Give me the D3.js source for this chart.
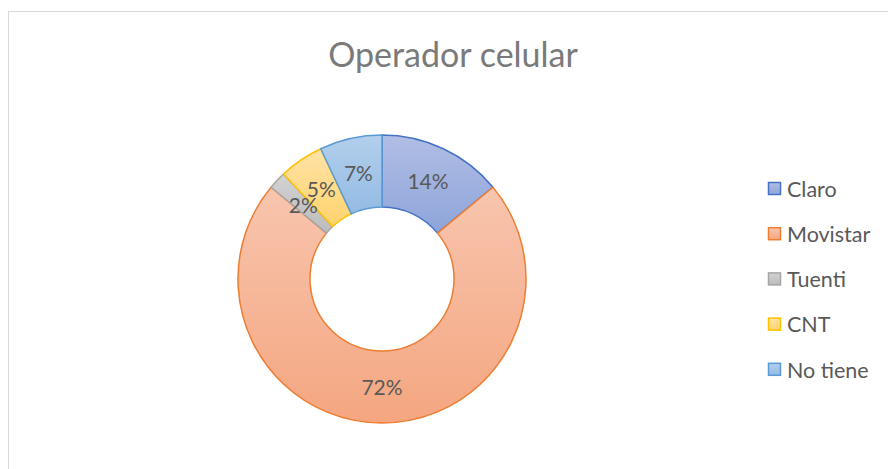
<!DOCTYPE html>
<html><head><meta charset="utf-8">
<script src="https://cdn.jsdelivr.net/npm/d3@7"></script>
<style>body{margin:0;background:#fff}svg{display:block}</style>
</head><body>
<script>
const categories = ["Claro", "Movistar", "Tuenti", "CNT", "No tiene"];
const values = [14, 72, 2, 5, 7];
const labels = ["14%", "72%", "2%", "5%", "7%"];
const strokeColors = ["#4472c4", "#ed7d31", "#a5a5a5", "#ffc000", "#5b9bd5"];
const topColors = ["#b1bee4", "#f8c5ae", "#d2d2d2", "#ffe3a6", "#b3cfec"];
const bottomColors = ["#8ea4da", "#f4a680", "#bcbcbc", "#ffd36e", "#93bbe4"];
const title = "Operador celular";

const W = 888, H = 469;
const svg = d3.select("body").append("svg").attr("width", W).attr("height", H);
const font = "Lato, 'Open Sans', sans-serif";

svg.append("rect").attr("x", 8.5).attr("y", 11.5).attr("width", 900).attr("height", 500)
  .attr("fill", "#fff").attr("stroke", "#d9d9d9").attr("stroke-width", 1);

const defs = svg.append("defs");
categories.forEach((c, i) => {
  const g = defs.append("linearGradient").attr("id", "g" + i)
    .attr("x1", 0).attr("y1", 0).attr("x2", 0).attr("y2", 1);
  g.append("stop").attr("offset", 0).attr("stop-color", topColors[i]);
  g.append("stop").attr("offset", 1).attr("stop-color", bottomColors[i]);
});

svg.append("text").attr("x", 453).attr("y", 67).attr("text-anchor", "middle")
  .attr("font-family", font).attr("font-size", 34).attr("fill", "#7a7a7a").text(title);

const cx = 382, cy = 279, R = 144, r = 72;
const pie = d3.pie().sort(null).value(d => d)(values);
const arc = d3.arc().innerRadius(r).outerRadius(R);
const labelArc = d3.arc().innerRadius((r + R) / 2).outerRadius((r + R) / 2);
const g = svg.append("g").attr("transform", `translate(${cx},${cy})`);
g.selectAll("path").data(pie).join("path")
  .attr("d", arc).attr("fill", (d, i) => `url(#g${i})`)
  .attr("stroke", (d, i) => strokeColors[i]).attr("stroke-width", 1.5)
  .attr("stroke-linejoin", "round");
g.selectAll("text").data(pie).join("text")
  .attr("transform", d => `translate(${labelArc.centroid(d)})`)
  .attr("text-anchor", "middle").attr("dy", "0.36em")
  .attr("font-family", font).attr("font-size", 21).attr("fill", "#595959")
  .text((d, i) => labels[i]);

const lg = svg.append("g").attr("transform", "translate(768,189)");
const rows = lg.selectAll("g").data(categories).join("g")
  .attr("transform", (d, i) => `translate(0,${i * 45.2})`);
rows.append("rect").attr("x", 0.5).attr("y", -6.5).attr("width", 12).attr("height", 12)
  .attr("fill", (d, i) => `url(#g${i})`).attr("stroke", (d, i) => strokeColors[i]).attr("stroke-width", 1.5);
rows.append("text").attr("x", 19).attr("dy", "0.36em")
  .attr("font-family", font).attr("font-size", 21.5).attr("fill", "#595959").text(d => d);
</script>
</body></html>
